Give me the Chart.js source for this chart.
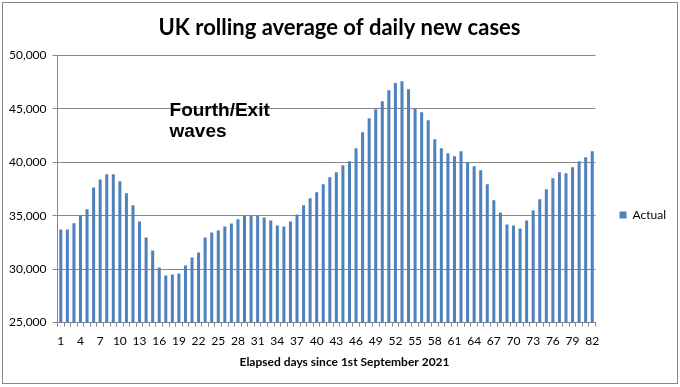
<!DOCTYPE html>
<html><head><meta charset="utf-8">
<script src="https://cdn.jsdelivr.net/npm/chart.js@4/dist/chart.umd.min.js"></script>
<style>
html,body{margin:0;padding:0;background:#fff;}
#wrap{position:relative;width:680px;height:387px;overflow:hidden;}
#frame{position:absolute;left:2px;top:2px;width:676px;height:382px;border:1px solid #888;box-sizing:border-box;pointer-events:none;}
canvas{display:block;}
</style></head><body>
<div id="wrap"><canvas id="c" width="680" height="387"></canvas><div id="frame"></div></div>
<script>
const chartTitle = 'UK rolling average of daily new cases';
const xAxisTitle = 'Elapsed days since 1st September 2021';
const annotationLines = ['Fourth/Exit', 'waves'];
const seriesName = 'Actual';
const days = ['1','2','3','4','5','6','7','8','9','10','11','12','13','14','15','16','17','18','19','20',
  '21','22','23','24','25','26','27','28','29','30','31','32','33','34','35','36','37','38','39','40',
  '41','42','43','44','45','46','47','48','49','50','51','52','53','54','55','56','57','58','59','60',
  '61','62','63','64','65','66','67','68','69','70','71','72','73','74','75','76','77','78','79','80',
  '81','82'];
const shownDayLabels = ['1','4','7','10','13','16','19','22','25','28','31','34','37','40','43','46','49','52','55','58','61','64','67','70','73','76','79','82'];
const actual = [33700,33700,34300,35030,35600,37650,38400,38880,38880,38220,
  37100,35970,34470,32970,31750,30160,29400,29500,29590,30340,
  31090,31560,32970,33440,33625,34000,34280,34660,35030,35030,
  35030,34840,34560,34090,34000,34470,35125,35970,36625,37190,
  37940,38590,39060,39720,40090,41310,42810,44125,44970,45720,
  46750,47410,47590,46840,45060,44690,43940,42160,41310,40840,
  40560,41030,40000,39625,39250,37940,36440,35310,34190,34090,
  33810,34560,35500,36530,37470,38500,39060,38970,39530,40090,
  40470,41030];
const yTickValues = [25000,30000,35000,40000,45000,50000];

const textPlugin = {
  id: 'extraTexts',
  afterDraw(chart) {
    const {ctx, chartArea: a} = chart;
    ctx.save();
    ctx.fillStyle = '#000';
    ctx.textAlign = 'left';
    ctx.textBaseline = 'alphabetic';
    ctx.font = 'bold 19px "Liberation Sans", Arial, sans-serif';
    ctx.fillText(annotationLines[0], a.left + 112, a.top + 61);
    ctx.fillText(annotationLines[1], a.left + 112, a.top + 82);
    ctx.font = 'bold 12px Lato, sans-serif';
    ctx.textAlign = 'center';
    ctx.textBaseline = 'middle';
    ctx.fillText(xAxisTitle, (a.left + a.right) / 2 + 18, a.bottom + 40);
    ctx.restore();
  }
};

new Chart(document.getElementById('c'), {
  type: 'bar',
  data: {
    labels: days,
    datasets: [{
      label: seriesName,
      data: actual,
      backgroundColor: '#4F81BD',
      borderWidth: 0,
      categoryPercentage: 1.0,
      barPercentage: 0.46
    }]
  },
  options: {
    responsive: false,
    animation: false,
    events: [],
    layout: { padding: { left: 3, right: 4, top: 0, bottom: 32 } },
    plugins: {
      title: {
        display: true,
        text: chartTitle,
        color: '#000',
        font: { family: 'Lato', weight: 'bold', size: 22 },
        padding: { top: 15, bottom: 14 }
      },
      legend: {
        display: true,
        position: 'right',
        align: 'center',
        title: { display: true, text: '', padding: { top: 62, bottom: 0 }, font: { size: 11 } },
        labels: {
          boxWidth: 7, boxHeight: 7, padding: 24,
          color: '#000',
          font: { family: 'Lato', size: 12 }
        }
      },
      tooltip: { enabled: false }
    },
    scales: {
      x: {
        grid: { display: true, drawOnChartArea: false, drawTicks: true, tickLength: 4, color: '#888', offset: true },
        border: { display: true, color: '#888' },
        ticks: {
          autoSkip: false, maxRotation: 0, minRotation: 0, padding: 7,
          color: '#000',
          font: { family: 'Lato', size: 12 },
          callback: function(v, i) { const l = days[i]; return shownDayLabels.includes(l) ? l : ''; }
        }
      },
      y: {
        min: 25000, max: 50000,
        afterBuildTicks: (s) => { s.ticks = yTickValues.map(v => ({ value: v })); },
        grid: { color: '#888', tickLength: 5 },
        border: { display: true, color: '#888' },
        ticks: {
          padding: 6,
          color: '#000',
          font: { family: 'Lato', size: 12 },
          callback: (v) => Number(v).toLocaleString('en-US')
        }
      }
    }
  },
  plugins: [textPlugin]
});
</script>
</body></html>
